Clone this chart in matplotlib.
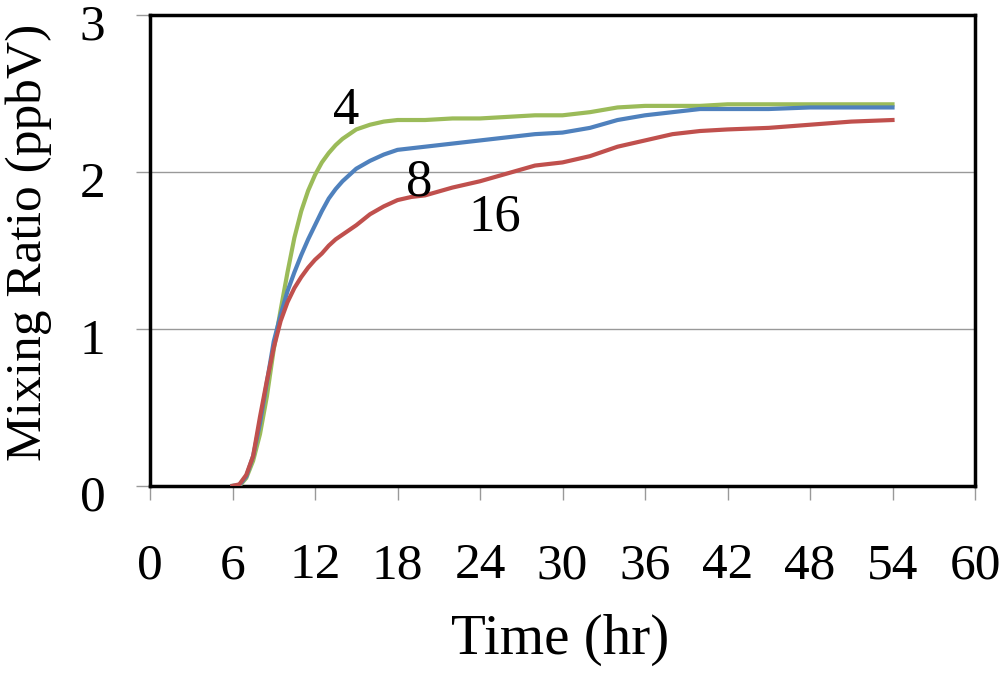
import matplotlib
matplotlib.use("Agg")
from matplotlib import pyplot as plt
from matplotlib.transforms import ScaledTranslation

# time in hours (denser during the fast rise)
hours = [6, 6.5, 7, 7.5, 8, 8.5, 9, 9.5, 10, 10.5, 11, 11.5, 12, 12.5, 13, 13.5,
         14, 15, 16, 17, 18, 19, 20, 22, 24, 26, 28, 30, 32, 34, 36, 38, 40, 42,
         45, 48, 51, 54]

# mixing ratio (ppbV) for the three cases
mix_4 = [0.0, 0.0, 0.05, 0.16, 0.33, 0.57, 0.87, 1.12, 1.36, 1.58, 1.75, 1.88,
         1.98, 2.06, 2.12, 2.17, 2.21, 2.27, 2.30, 2.32, 2.33, 2.33, 2.33, 2.34,
         2.34, 2.35, 2.36, 2.36, 2.38, 2.41, 2.42, 2.42, 2.42, 2.43, 2.43, 2.43,
         2.43, 2.43]
mix_8 = [0.0, 0.005, 0.06, 0.19, 0.40, 0.66, 0.92, 1.09, 1.24, 1.36, 1.47, 1.57,
         1.66, 1.75, 1.83, 1.89, 1.94, 2.02, 2.07, 2.11, 2.14, 2.15, 2.16, 2.18,
         2.20, 2.22, 2.24, 2.25, 2.28, 2.33, 2.36, 2.38, 2.40, 2.40, 2.40, 2.41,
         2.41, 2.41]
mix_16 = [0.0, 0.01, 0.07, 0.19, 0.44, 0.67, 0.88, 1.05, 1.17, 1.26, 1.33, 1.39,
          1.44, 1.48, 1.53, 1.57, 1.60, 1.66, 1.73, 1.78, 1.82, 1.84, 1.85, 1.90,
          1.94, 1.99, 2.04, 2.06, 2.10, 2.16, 2.20, 2.24, 2.26, 2.27, 2.28, 2.30,
          2.32, 2.33]

series = [("4", mix_4, "#9BBB59", (14.3, 2.39)),
          ("8", mix_8, "#4F81BD", (19.6, 1.93)),
          ("16", mix_16, "#C0504D", (25.1, 1.71))]

plt.rcParams['font.family'] = ['Liberation Serif', 'DejaVu Serif']

fig = plt.figure(figsize=(10, 6.73), dpi=100)
ax = fig.add_axes([0.15, 0.278, 0.825, 0.7])

for label, vals, color, pos in series:
    ax.plot(hours, vals, color=color, lw=3, solid_joinstyle='round', zorder=3)
    ax.text(pos[0], pos[1], label, fontsize=38, ha='center', va='center', zorder=4)

ax.set_xlim(0, 60)
ax.set_ylim(0, 3)
ax.set_xticks(range(0, 61, 6))
ax.set_yticks([0, 1, 2, 3])
ax.yaxis.grid(True, color='#999999', lw=1)
ax.set_axisbelow(True)

for side in ax.spines.values():
    side.set_linewidth(2.5)
    side.set_color('black')

ax.tick_params(axis='both', direction='out', color='#999999', width=1,
               length=10, labelsize=37)
ax.tick_params(axis='x', pad=31)
ax.tick_params(axis='y', pad=22)

# y labels sit a little below their ticks, like the original
shift = ScaledTranslation(0, -5 / 72, fig.dpi_scale_trans)
for lbl in ax.get_yticklabels():
    lbl.set_transform(lbl.get_transform() + shift)

ax.set_xlabel("Time (hr)", fontsize=41)
ax.xaxis.set_label_coords(0.497, -0.272)
ax.set_ylabel("Mixing Ratio (ppbV)", fontsize=37)
ax.yaxis.set_label_coords(-0.119, 0.518)

fig.savefig("out.png", dpi=100)
